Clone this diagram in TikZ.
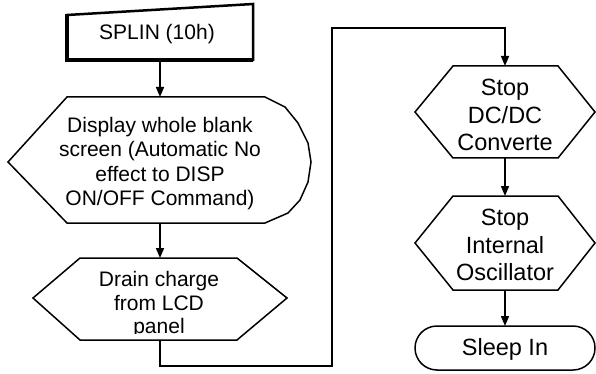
\documentclass[tikz,border=0pt]{standalone}
\usepackage{fontspec}
\setmainfont{Liberation Sans}
\usetikzlibrary{arrows.meta}
\begin{document}
\begin{tikzpicture}[x=1pt,y=-1pt,
  shapeline/.style={draw=black,line width=1.5pt,line join=miter},
  txtL/.style={font=\fontsize{21}{#1}\selectfont,align=center,inner sep=0pt},
  txtL/.default=24.5,
  txtR/.style={font=\fontsize{23.5}{#1}\selectfont,align=center,inner sep=0pt},
  txtR/.default=27.5,
  flow/.style={draw=black,line width=1.5pt,-{Triangle[length=10pt,width=8pt]}}]
\useasboundingbox (0,0) rectangle (596,374);
% SPLIN (manual input shape)
\draw[line width=2.5pt,line join=miter] (67,15) -- (253,4) -- (253,60) -- (67,60) -- cycle;
\draw[line width=4pt,line join=miter] (67,14) -- (67,60) -- (253,60);
\node[txtL] (splin) at (157,34.5) {SPLIN (10h)};
\coordinate (splinB) at (160,60);
% Display whole blank screen
\draw[shapeline] (67,97) -- (265,97) -- (285,107) -- (298,123) -- (308,143) -- (311,162)
  -- (308,182) -- (300,200) -- (288,213) -- (265,223) -- (67,223) -- (8,162) -- cycle;
\node[txtL=24.5] (disp) at (160,163.5) {Display whole blank\\screen (Automatic No\\effect to DISP\\ON/OFF Command)};
\coordinate (dispT) at (160,97);
\coordinate (dispB) at (160,223);
% Drain charge
\draw[shapeline] (80,258) -- (237,258) -- (287,298) -- (237,340) -- (80,340) -- (33,298) -- cycle;
\begin{scope}
  \clip (0,250) rectangle (300,333.5);
  \node[txtL=23.5] (drain) at (159,305) {Drain charge\\from LCD\\panel};
\end{scope}
\coordinate (drainT) at (160,258);
\coordinate (drainB) at (160,340);
% Stop DC/DC
\draw[shapeline] (453,66) -- (558,66) -- (595,112) -- (558,158) -- (453,158) -- (415,112) -- cycle;
\node[txtR] (dcdc) at (505,115) {Stop\\DC/DC\\Converte};
\coordinate (dcT) at (505,66);
\coordinate (dcB) at (505,158);
% Stop Internal Oscillator
\draw[shapeline] (453,196) -- (558,196) -- (595,243) -- (558,290) -- (453,290) -- (415,243) -- cycle;
\node[txtR] (osc) at (505,245) {Stop\\Internal\\Oscillator};
\coordinate (oscT) at (505,196);
\coordinate (oscB) at (505,290);
% Sleep In terminator
\draw[shapeline,rounded corners=22pt] (415,326) rectangle (595,370);
\node[txtR] (sleep) at (505,349.5) {Sleep In};
\coordinate (sleepT) at (505,326);
% connectors
\coordinate (busB) at (332,366);
\coordinate (busT) at (332,28);
\draw[flow] (splinB) -- (dispT);
\draw[flow] (dispB) -- (drainT);
\draw[flow,line join=miter] (drainB) |- (busB) -- (busT) -| (dcT);
\draw[flow] (dcB) -- (oscT);
\draw[flow] (oscB) -- (sleepT);
\end{tikzpicture}
\end{document}
